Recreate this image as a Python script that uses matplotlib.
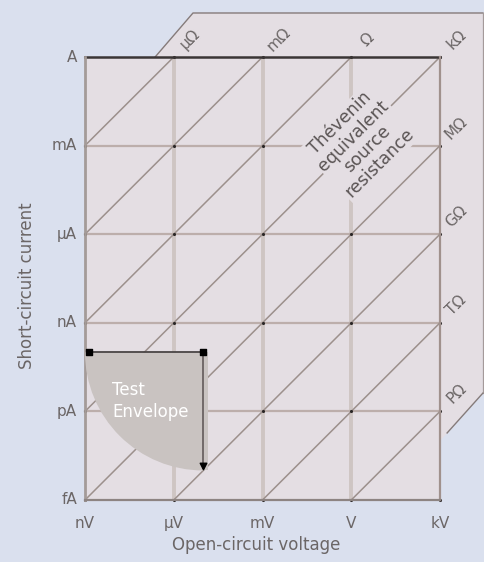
import matplotlib
matplotlib.use("Agg")
import matplotlib.pyplot as plt
from matplotlib.patches import Polygon, Wedge, Rectangle
import numpy as np

plt.rcParams['font.family'] = ['DejaVu Sans']

# decades (log10) of the axes
volt_exp = [-9, -6, -3, 0, 3]
volt_labels = ['nV', 'µV', 'mV', 'V', 'kV']
amp_exp = [0, -3, -6, -9, -12, -15]
amp_labels = ['A', 'mA', 'µA', 'nA', 'pA', 'fA']
res_exp = [-6, -3, 0, 3, 6, 9, 12, 15]
res_labels = ['µΩ', 'mΩ', 'Ω', 'kΩ', 'MΩ', 'GΩ', 'TΩ', 'PΩ']

# test envelope: 1 nV .. 10 µV, 10 fA .. 100 pA
env_v = [-9, -5]
env_i = [-14, -10]

bg_out = '#dae0ee'
bg_in = '#e4dee3'
txt = '#6b6666'

fig = plt.figure(figsize=(4.85, 5.62), dpi=100)
fig.patch.set_facecolor(bg_out)
ax = fig.add_axes([0, 0, 1, 1])
ax.set_facecolor(bg_out)

# map pixels -> data so that nV..kV sits at 85..440 px, A..fA at 57..500 px
sx = 355 / 12.0
sy = 443 / 15.0
ax.set_xlim(-9 - 85 / sx, 3 + 45 / sx)
ax.set_ylim(-15 - 62 / sy, 0 + 57 / sy)
ax.axis('off')

xmin, xmax = volt_exp[0], volt_exp[-1]
ymin, ymax = amp_exp[-1], amp_exp[0]

# pinkish band around top and right
band = [(xmin, ymin), (xmin, ymax), (-6.63, ymax), (-5.35, 1.49), (4.45, 1.49),
        (4.45, -11.38), (3.0, -13.0), (xmax, ymin)]
ax.add_patch(Polygon(band, closed=True, facecolor=bg_in, edgecolor='none', zorder=0))
ax.plot([-6.63, -5.35, 4.45], [ymax, 1.49, 1.49], color='#857b7a', lw=1.0, zorder=1)
ax.plot([4.45, 4.45], [1.49, -11.38], color='#a49a9a', lw=0.9, zorder=1)
ax.plot([4.45, 3.24], [-11.38, -12.73], color='#857b7a', lw=1.0, zorder=1)

# grid
for v in volt_exp[1:-1]:
    ax.plot([v, v], [ymin, ymax], color='#cec5c3', lw=2.8, zorder=2, solid_capstyle='butt')
for a in amp_exp[1:-1]:
    ax.plot([xmin, xmax], [a, a], color='#bcaeab', lw=1.6, zorder=2)

# constant-resistance diagonals: log I = log V - log R
for r, lab in zip(res_exp, res_labels):
    x0 = max(xmin, ymin + r)
    x1 = min(xmax, ymax + r)
    ax.plot([x0, x1], [x0 - r, x1 - r], color='#9c908c', lw=1.1, zorder=3)
    ax.text(x1 + 0.55, x1 - r + 0.6, lab, rotation=45, ha='center', va='center',
            fontsize=11, color=txt, zorder=6)

# dots at grid crossings
gx, gy = np.meshgrid(volt_exp, amp_exp)
ax.scatter(gx.ravel(), gy.ravel(), s=5, color='#2a2626', zorder=4, linewidths=0)

# frame
ax.plot([xmin, xmax], [ymax, ymax], color='#3a3535', lw=1.8, zorder=5)
ax.plot([xmin, xmin], [ymin, ymax], color='#a49b98', lw=2.0, zorder=5)
ax.plot([xmax, xmax], [ymin, ymax], color='#a0918d', lw=1.6, zorder=5)
ax.plot([xmin, xmax], [ymin, ymin], color='#8d8482', lw=1.6, zorder=5)

# Thévenin label (hides lines under it)
ax.text(0.3, -2.9, 'Thévenin\nequivalent\nsource\nresistance', rotation=45,
        ha='center', va='center', multialignment='center', fontsize=12.5,
        color='#5a5454', linespacing=1.05, zorder=5,
        bbox=dict(boxstyle='square,pad=0.1', facecolor=bg_in, edgecolor='none'))

# test envelope
cx, cy = env_v[1], env_i[1]
rad = env_v[1] - env_v[0]
ax.add_patch(Wedge((cx, cy), rad, 180, 270, facecolor='#c9c3c1', edgecolor='none', zorder=6))
ax.add_patch(Rectangle((cx - 0.02, env_i[0]), 0.18, cy - env_i[0], facecolor='#c9c3c1',
                       edgecolor='none', zorder=6))
ax.plot([env_v[0] + 0.1, cx], [cy, cy], color='#4a4545', lw=1.3, zorder=7)
ax.plot([cx, cx], [cy, env_i[0] + 0.1], color='#6a6262', lw=1.3, zorder=7)
ax.scatter([env_v[0] + 0.12, cx], [cy, cy], marker='s', s=14, color='black', zorder=8)
ax.scatter([cx], [env_i[0] + 0.15], marker='v', s=22, color='black', zorder=8)
ax.text(-8.09, -11.65, 'Test\nEnvelope', ha='left', va='center', fontsize=12,
        color='white', linespacing=1.25, zorder=8)

# tick labels
for v, lab in zip(volt_exp, volt_labels):
    ax.text(v, ymin - 0.78, lab, ha='center', va='center', fontsize=11, color=txt)
for a, lab in zip(amp_exp, amp_labels):
    ax.text(xmin - 0.27, a, lab, ha='right', va='center', fontsize=11, color=txt)

ax.text(-3.2, ymin - 1.52, 'Open-circuit voltage', ha='center', va='center',
        fontsize=12, color=txt)
ax.text(-10.96, -7.75, 'Short-circuit current', rotation=90, ha='center', va='center',
        fontsize=12, color=txt)

fig.savefig('out.png', dpi=100, facecolor=bg_out)
